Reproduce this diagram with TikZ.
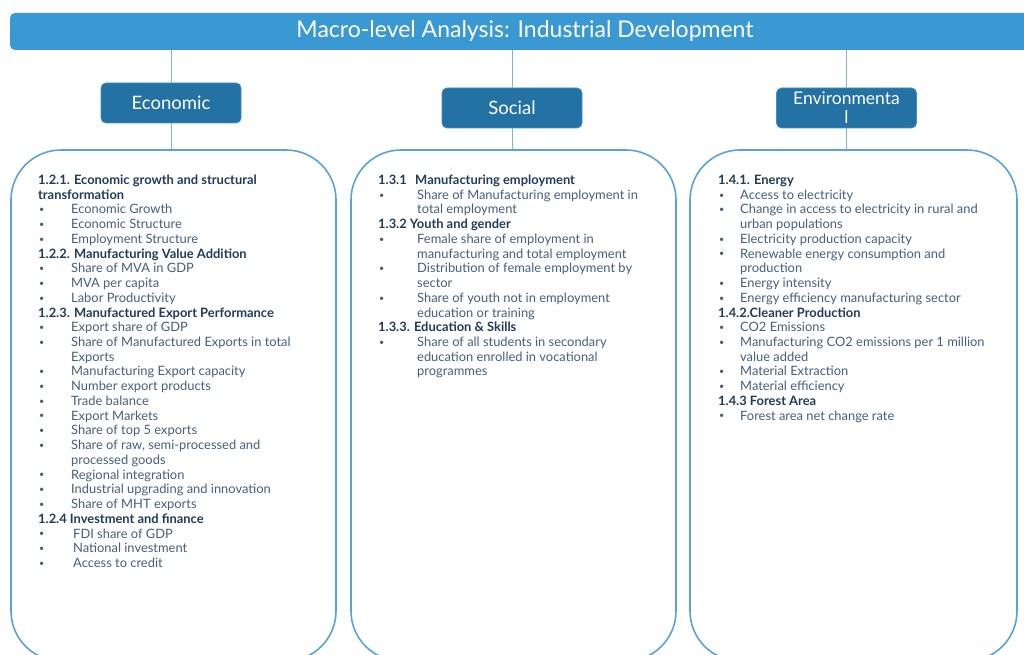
\documentclass[tikz,border=0pt]{standalone}
\usepackage{fontspec}
\setmainfont{Lato}
\definecolor{titlec}{HTML}{3A98D3}
\definecolor{boxc}{HTML}{2471A3}
\definecolor{boxedge}{HTML}{3C8FCB}
\definecolor{framec}{HTML}{5AA2DA}
\definecolor{linec}{HTML}{7FB3DC}
\definecolor{headc}{HTML}{1F3C5A}
\definecolor{itemc}{HTML}{44607C}
\newcommand\hd[1]{{\bfseries\color{headc}#1}}
\newcommand\bl[2][33pt]{\makebox[#1][l]{\hspace{1pt}\raisebox{1.2pt}{\fontsize{9}{9}\selectfont\textbullet}}#2}
\newcommand\ct[2][33pt]{\hspace*{#1}#2}
\begin{document}
\begin{tikzpicture}[x=1pt,y=-1pt,
  titlebar/.style={fill=titlec, rounded corners=5pt, minimum width=1030pt, minimum height=37pt, inner sep=0pt, text=white, font=\fontsize{23}{26}\selectfont},
  catbox/.style={fill=boxc, draw=boxedge, line width=0.8pt, rounded corners=5pt, minimum width=140pt, minimum height=40pt, inner sep=0pt, text=white, font=\fontsize{18.5}{19}\selectfont, align=center},
  frame/.style={draw=framec, line width=1.6pt, rounded corners=50pt, minimum width=325pt, minimum height=511pt, inner sep=0pt},
  conn/.style={draw=linec, line width=0.8pt},
  txt/.style={anchor=base west, inner sep=0pt, text=itemc, font=\fontsize{12.9}{14}\selectfont}
]
\useasboundingbox (0,0) rectangle (1024,655);
\fill[white] (0,0) rectangle (1024,655);

\node[titlebar] (title) at (525,31.5) {\raisebox{-2pt}{Macro-level Analysis: Industrial Development}};

\node[catbox] (econ) at (171,103) {Economic};
\node[catbox] (soc) at (512,108) {Social};
\node[catbox, font=\fontsize{17.5}{19}\selectfont] (env) at (846.5,108) {Environmenta\\l};

\node[frame] (ecbox) at (173.5,405.5) {};
\node[frame] (socbox) at (513.5,405.5) {};
\node[frame, minimum width=327pt] (envbox) at (853.5,405.5) {};

\draw[conn] (title.south -| econ.north) -- (econ.north);
\draw[conn] (title.south -| soc.north) -- (soc.north);
\draw[conn] (title.south -| env.north) -- (env.north);
\draw[conn] (econ.south) -- (econ.south |- ecbox.north);
\draw[conn] (soc.south) -- (soc.south |- socbox.north);
\draw[conn] (env.south) -- (env.south |- envbox.north);

\foreach \t [count=\i] in {
  {\hd{1.2.1. Economic growth and structural}},
  {\hd{transformation}},
  {\bl{Economic Growth}},
  {\bl{Economic Structure}},
  {\bl{Employment Structure}},
  {\hd{1.2.2. Manufacturing Value Addition}},
  {\bl{Share of MVA in GDP}},
  {\bl{MVA per capita}},
  {\bl{Labor Productivity}},
  {\hd{1.2.3. Manufactured Export Performance}},
  {\bl{Export share of GDP}},
  {\bl{Share of Manufactured Exports in total}},
  {\ct{Exports}},
  {\bl{Manufacturing Export capacity}},
  {\bl{Number export products}},
  {\bl{Trade balance}},
  {\bl{Export Markets}},
  {\bl{Share of top 5 exports}},
  {\bl{Share of raw, semi-processed and}},
  {\ct{processed goods}},
  {\bl{Regional integration}},
  {\bl{Industrial upgrading and innovation}},
  {\bl{Share of MHT exports}},
  {\hd{1.2.4 Investment and finance}},
  {\bl[35pt]{FDI share of GDP}},
  {\bl[35pt]{National investment}},
  {\bl[35pt]{Access to credit}}}
  \node[txt] (e\i) at (38,{184.5+14.73*(\i-1)}) {\t};

\foreach \t [count=\i] in {
  {\hd{\makebox[37pt][l]{1.3.1}Manufacturing employment}},
  {\bl[39pt]{Share of Manufacturing employment in}},
  {\ct[39pt]{total employment}},
  {\hd{1.3.2 Youth and gender}},
  {\bl[39pt]{Female share of employment in}},
  {\ct[39pt]{manufacturing and total employment}},
  {\bl[39pt]{Distribution of female employment by}},
  {\ct[39pt]{sector}},
  {\bl[39pt]{Share of youth not in employment}},
  {\ct[39pt]{education or training}},
  {\hd{1.3.3. Education \& Skills}},
  {\bl[39pt]{Share of all students in secondary}},
  {\ct[39pt]{education enrolled in vocational}},
  {\ct[39pt]{programmes}}}
  \node[txt] (s\i) at (378,{184.5+14.73*(\i-1)}) {\t};

\foreach \t [count=\i] in {
  {\hd{1.4.1. Energy}},
  {\bl[22pt]{Access to electricity}},
  {\bl[22pt]{Change in access to electricity in rural and}},
  {\ct[22pt]{urban populations}},
  {\bl[22pt]{Electricity production capacity}},
  {\bl[22pt]{Renewable energy consumption and}},
  {\ct[22pt]{production}},
  {\bl[22pt]{Energy intensity}},
  {\bl[22pt]{Energy efficiency manufacturing sector}},
  {\hd{1.4.2.Cleaner Production}},
  {\bl[22pt]{CO2 Emissions}},
  {\bl[22pt]{Manufacturing CO2 emissions per 1 million}},
  {\ct[22pt]{value added}},
  {\bl[22pt]{Material Extraction}},
  {\bl[22pt]{Material efficiency}},
  {\hd{1.4.3 Forest Area}},
  {\bl[22pt]{Forest area net change rate}}}
  \node[txt] (v\i) at (718,{184.5+14.73*(\i-1)}) {\t};
\end{tikzpicture}
\end{document}
